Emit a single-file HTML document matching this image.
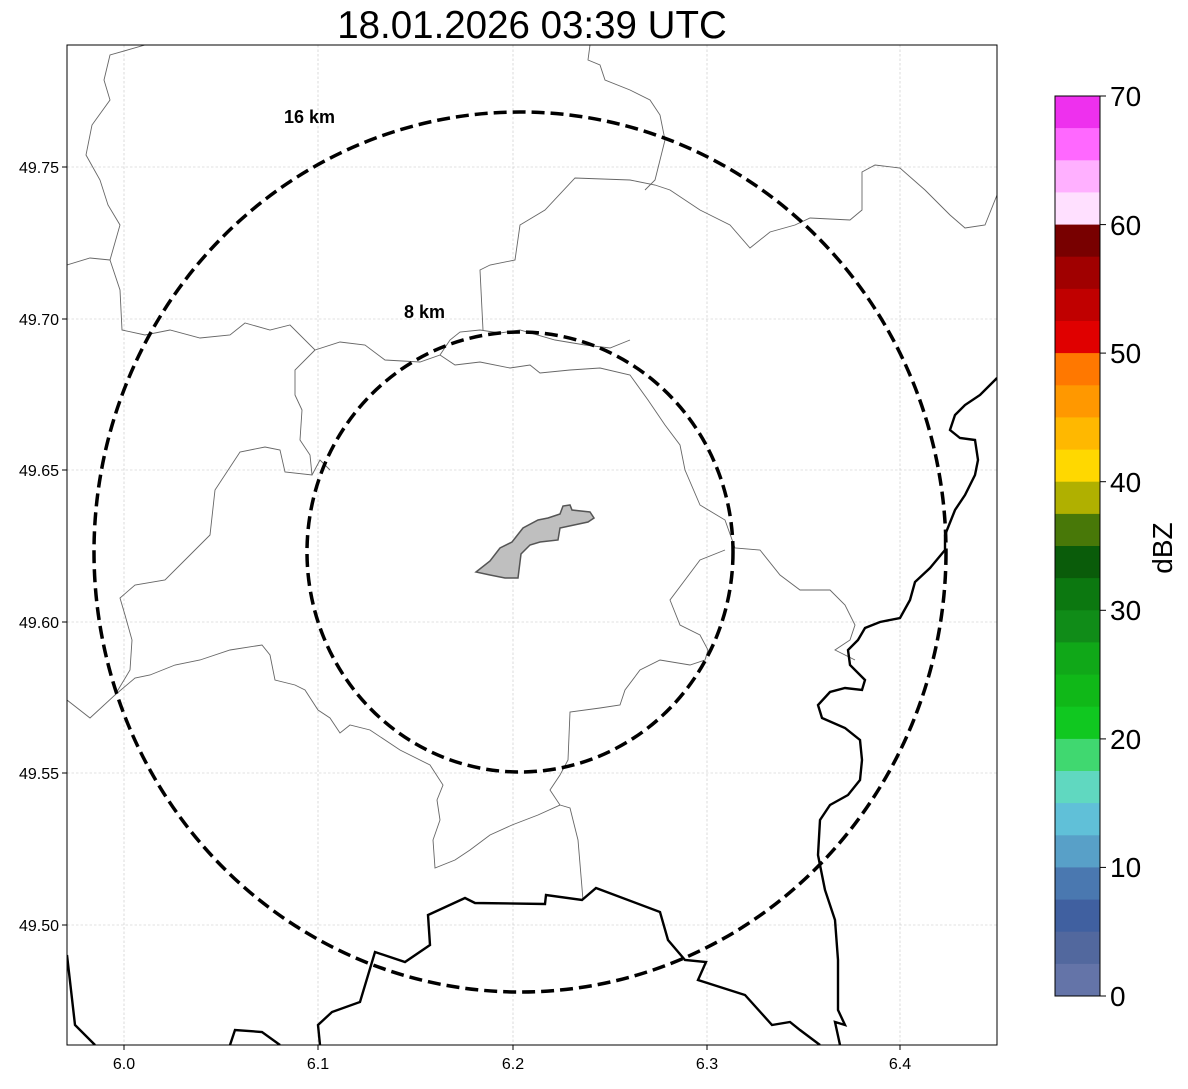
<!DOCTYPE html>
<html><head><meta charset="utf-8"><style>
body{margin:0;background:#fff;}
svg text{font-family:"Liberation Sans",sans-serif;}
</style></head><body>
<svg width="1188" height="1084" viewBox="0 0 1188 1084" xmlns="http://www.w3.org/2000/svg">
<rect width="1188" height="1084" fill="#fff"/>
<text x="532" y="38" font-size="38.5" text-anchor="middle">18.01.2026 03:39 UTC</text>
<defs><clipPath id="c"><rect x="67" y="45" width="930" height="1000"/></clipPath></defs>
<g clip-path="url(#c)">
<g stroke="#c4c4c4" stroke-width="0.6" stroke-dasharray="2.5,2">
<line x1="124" y1="45" x2="124" y2="1045"/><line x1="318" y1="45" x2="318" y2="1045"/><line x1="513" y1="45" x2="513" y2="1045"/><line x1="707" y1="45" x2="707" y2="1045"/><line x1="900" y1="45" x2="900" y2="1045"/>
<line x1="67" y1="167" x2="997" y2="167"/><line x1="67" y1="319" x2="997" y2="319"/><line x1="67" y1="470" x2="997" y2="470"/><line x1="67" y1="622" x2="997" y2="622"/><line x1="67" y1="773" x2="997" y2="773"/><line x1="67" y1="925" x2="997" y2="925"/>
</g>
<g fill="none" stroke="#666" stroke-width="0.9">
<path d="M145,45 L110,55 L104,80 L110,100 L92,125 L86,155 L100,180 L108,205 L120,225 L110,260 L120,290 L122,330 L145,335 L170,330 L200,338 L230,335 L245,323 L270,330 L290,325 L315,350 L340,342 L365,345 L385,360 L420,362 L440,355 L450,340 L460,332 L480,330 L500,333 L520,330 L555,340 L585,345 L610,348 L630,340"/>
<path d="M67,265 L90,258 L110,260"/>
<path d="M590,45 L588,60 L600,65 L605,80 L630,90 L650,100 L660,115 L665,140 L660,160 L655,180 L645,190"/>
<path d="M483,330 L480,270 L490,265 L515,260 L520,225 L545,210 L575,178 L630,180 L655,185 L670,190 L700,210 L730,225 L750,248 L770,232 L795,225 L810,218 L850,220 L862,210 L862,172 L875,165 L900,168 L925,190 L950,215 L965,228 L985,225 L997,195"/>
<path d="M315,350 L295,370 L295,395 L302,410 L300,440 L310,455 L312,475 L285,472 L280,450 L265,447 L240,452 L215,490 L210,535 L190,555 L165,580 L135,585 L120,598 L125,615 L132,640 L130,670 L115,695 L90,718 L67,700"/>
<path d="M312,475 L320,460 L330,470"/>
<path d="M440,355 L455,365 L480,362 L510,368 L530,365 L540,373 L570,370 L600,368 L630,375 L648,400 L665,425 L680,445 L685,470 L700,505 L725,520 L735,548 L760,550 L780,575 L800,590 L830,590 L845,605 L855,625 L850,640 L835,650 L855,660"/>
<path d="M725,550 L700,560 L685,580 L670,600 L680,625 L700,635 L708,650 L705,660 L690,665 L660,660 L640,670 L625,690 L620,705 L600,708 L570,712 L568,760 L560,775 L550,790 L560,805 L538,815 L512,825 L490,835 L470,850 L455,860 L435,868 L433,840 L440,820 L437,800 L443,785 L430,765 L400,750 L370,730 L350,725 L340,733 L330,718 L318,710 L305,690 L295,685 L275,680 L270,655 L262,645 L230,650 L200,660 L175,665 L150,675 L135,678 L115,695"/>
<path d="M560,805 L570,808 L578,840 L583,900"/>
</g>
<g fill="none" stroke="#000" stroke-width="2.4">
<path d="M67,955 L75,1025 L95,1045"/>
<path d="M230,1045 L235,1030 L262,1032 L280,1045"/>
<path d="M320,1045 L318,1025 L332,1012 L360,1002 L375,952 L405,962 L430,945 L428,915 L465,898 L475,903 L545,904 L546,895 L582,900 L596,888 L660,912 L668,940 L685,960 L706,962 L698,980 L745,995 L772,1025 L790,1022 L800,1030 L820,1045"/>
<path d="M840,1045 L835,1022 L845,1025 L838,1010 L838,960 L835,920 L825,890 L818,855 L820,820 L830,805 L848,795 L860,780 L862,760 L860,740 L845,728 L822,718 L818,705 L830,692 L845,688 L862,690 L865,680 L850,665 L848,650 L858,640 L865,628 L880,622 L900,618 L910,600 L915,582 L930,568 L945,550 L945,535 L955,510 L965,495 L975,475 L978,460 L975,440 L960,438 L950,430 L955,415 L965,405 L980,395 L990,385 L997,378"/>
</g>
<path d="M476,572 L490,561 L500,548 L512,542 L523,528 L538,520 L548,518 L560,514 L563,506 L570,505 L572,510 L590,512 L594,518 L588,522 L560,528 L558,540 L540,542 L530,545 L521,554 L518,578 L505,578 L490,575 Z" fill="#bfbfbf" stroke="#555" stroke-width="1.5"/>
<g fill="none" stroke="#000" stroke-width="3.5" stroke-dasharray="13,6">
<ellipse cx="520" cy="552" rx="426" ry="440"/>
<ellipse cx="520" cy="552" rx="213" ry="220"/>
</g>
<text x="284" y="123" font-size="18" font-weight="bold">16 km</text>
<text x="404" y="318" font-size="18" font-weight="bold">8 km</text>
</g>
<rect x="67" y="45" width="930" height="1000" fill="none" stroke="#000" stroke-width="1"/>
<g stroke="#000" stroke-width="1">
<line x1="62" y1="167" x2="67" y2="167"/><line x1="62" y1="319" x2="67" y2="319"/><line x1="62" y1="470" x2="67" y2="470"/><line x1="62" y1="622" x2="67" y2="622"/><line x1="62" y1="773" x2="67" y2="773"/><line x1="62" y1="925" x2="67" y2="925"/>
<line x1="124" y1="1045" x2="124" y2="1050"/><line x1="318" y1="1045" x2="318" y2="1050"/><line x1="513" y1="1045" x2="513" y2="1050"/><line x1="707" y1="1045" x2="707" y2="1050"/><line x1="900" y1="1045" x2="900" y2="1050"/>
</g>
<g font-size="16" text-anchor="end">
<text x="59" y="173">49.75</text><text x="59" y="325">49.70</text><text x="59" y="476">49.65</text><text x="59" y="628">49.60</text><text x="59" y="779">49.55</text><text x="59" y="931">49.50</text>
</g>
<g font-size="16" text-anchor="middle">
<text x="124" y="1069">6.0</text><text x="318" y="1069">6.1</text><text x="513" y="1069">6.2</text><text x="707" y="1069">6.3</text><text x="900" y="1069">6.4</text>
</g>
<g>
<rect x="1055" y="96.0" width="45" height="32.6" fill="#ee30ee"/>
<rect x="1055" y="128.1" width="45" height="32.6" fill="#ff68ff"/>
<rect x="1055" y="160.3" width="45" height="32.6" fill="#ffb0ff"/>
<rect x="1055" y="192.4" width="45" height="32.6" fill="#ffe0ff"/>
<rect x="1055" y="224.6" width="45" height="32.6" fill="#780000"/>
<rect x="1055" y="256.7" width="45" height="32.6" fill="#a00000"/>
<rect x="1055" y="288.9" width="45" height="32.6" fill="#c00000"/>
<rect x="1055" y="321.0" width="45" height="32.6" fill="#e00000"/>
<rect x="1055" y="353.1" width="45" height="32.6" fill="#ff7800"/>
<rect x="1055" y="385.3" width="45" height="32.6" fill="#ff9800"/>
<rect x="1055" y="417.4" width="45" height="32.6" fill="#ffb800"/>
<rect x="1055" y="449.6" width="45" height="32.6" fill="#ffd800"/>
<rect x="1055" y="481.7" width="45" height="32.6" fill="#b0b000"/>
<rect x="1055" y="513.9" width="45" height="32.6" fill="#487808"/>
<rect x="1055" y="546.0" width="45" height="32.6" fill="#0a5c0a"/>
<rect x="1055" y="578.1" width="45" height="32.6" fill="#0c7810"/>
<rect x="1055" y="610.3" width="45" height="32.6" fill="#108c18"/>
<rect x="1055" y="642.4" width="45" height="32.6" fill="#10a818"/>
<rect x="1055" y="674.6" width="45" height="32.6" fill="#10b818"/>
<rect x="1055" y="706.7" width="45" height="32.6" fill="#10c820"/>
<rect x="1055" y="738.9" width="45" height="32.6" fill="#40d870"/>
<rect x="1055" y="771.0" width="45" height="32.6" fill="#60d8c0"/>
<rect x="1055" y="803.1" width="45" height="32.6" fill="#60c0d8"/>
<rect x="1055" y="835.3" width="45" height="32.6" fill="#58a0c8"/>
<rect x="1055" y="867.4" width="45" height="32.6" fill="#4a78b0"/>
<rect x="1055" y="899.6" width="45" height="32.6" fill="#4060a0"/>
<rect x="1055" y="931.7" width="45" height="32.6" fill="#52689e"/>
<rect x="1055" y="963.9" width="45" height="32.1" fill="#6474a8"/>
<rect x="1055" y="96" width="45" height="900" fill="none" stroke="#000" stroke-width="1"/>
<g stroke="#000" stroke-width="1">
<line x1="1100" y1="96" x2="1106" y2="96"/><line x1="1100" y1="224.6" x2="1106" y2="224.6"/><line x1="1100" y1="353.1" x2="1106" y2="353.1"/><line x1="1100" y1="481.7" x2="1106" y2="481.7"/><line x1="1100" y1="610.3" x2="1106" y2="610.3"/><line x1="1100" y1="738.9" x2="1106" y2="738.9"/><line x1="1100" y1="867.4" x2="1106" y2="867.4"/><line x1="1100" y1="996" x2="1106" y2="996"/>
</g>
<g font-size="28">
<text x="1110" y="106">70</text><text x="1110" y="235">60</text><text x="1110" y="363">50</text><text x="1110" y="492">40</text><text x="1110" y="620">30</text><text x="1110" y="749">20</text><text x="1110" y="877">10</text><text x="1110" y="1006">0</text>
</g>
<text x="1172" y="548" font-size="28" text-anchor="middle" transform="rotate(-90 1172 548)">dBZ</text>
</g>
</svg>
</body></html>
